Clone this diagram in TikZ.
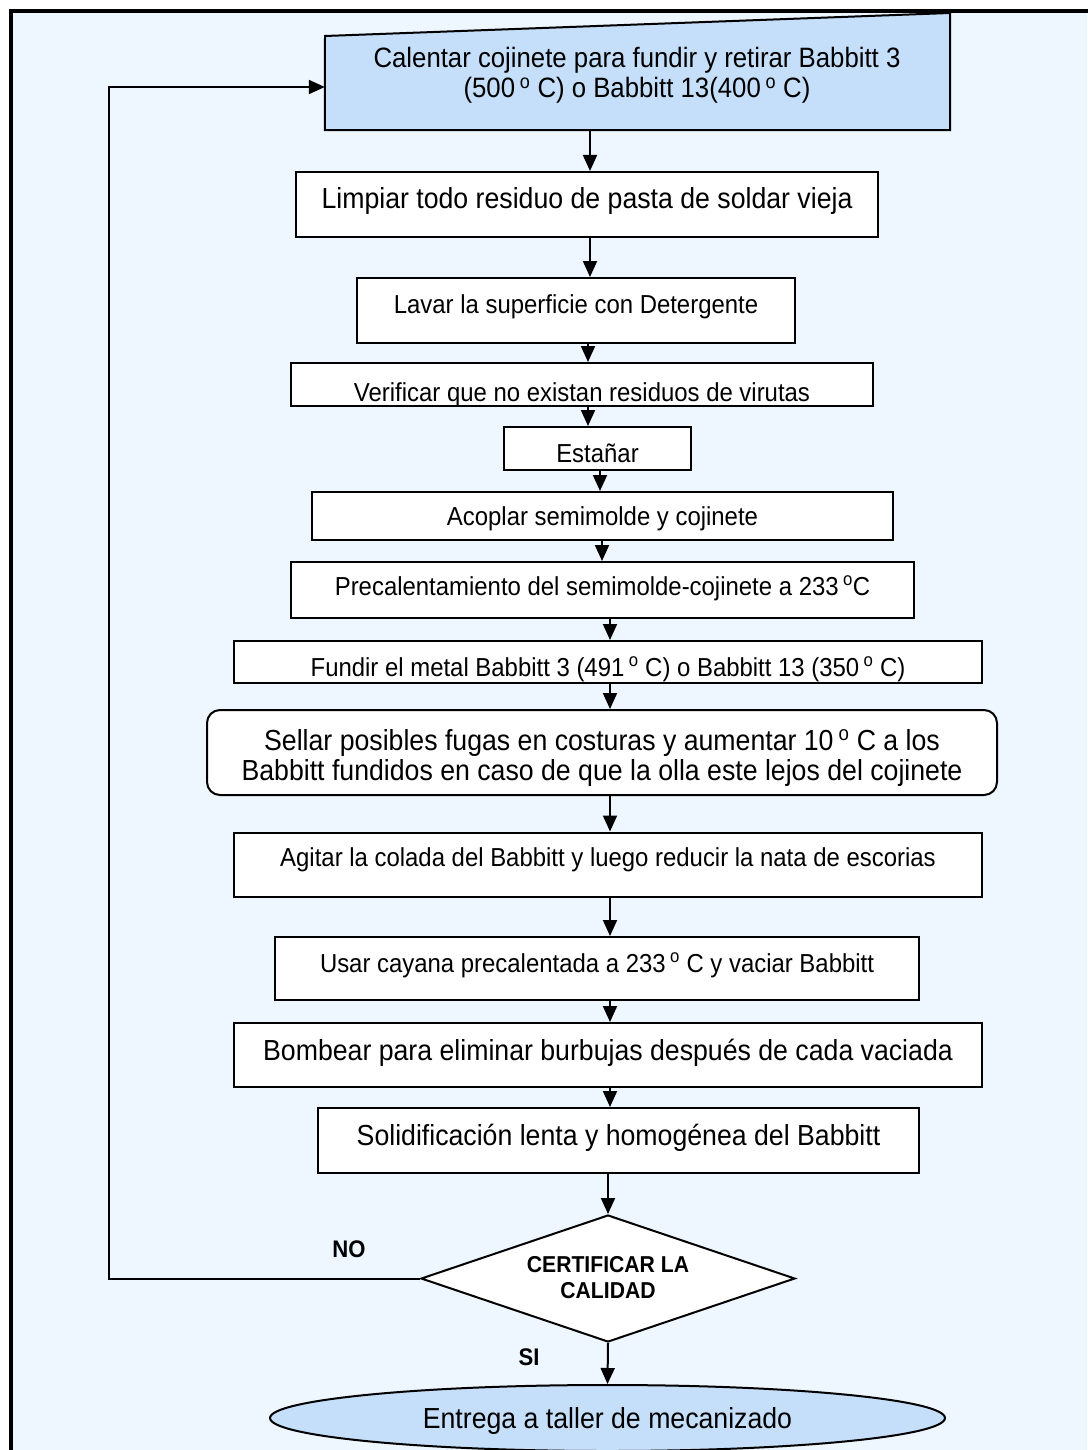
\documentclass[tikz,border=0pt]{standalone}
\usepackage{fontspec}
\setmainfont[FakeStretch=0.92]{Liberation Sans}
\usetikzlibrary{arrows.meta,shapes.geometric,calc}
\definecolor{bgblue}{RGB}{238,246,255}
\definecolor{boxblue}{RGB}{197,223,250}
\newcommand\fsz[1]{\fontsize{#1}{#1}\selectfont}
\newcommand\dg{\,\textsuperscript{o}}
\begin{document}
\begin{tikzpicture}[x=1pt,y=-1pt,
  box/.style={draw,line width=2pt,fill=white,inner sep=0pt},
  arr/.style={line width=2pt,-{Triangle[length=16pt,width=14pt]}},
  txt/.style={anchor=base,inner sep=0pt},
  lbl/.style={anchor=base,inner sep=0pt,font=\fsz{24}\bfseries}]
\useasboundingbox (0,0) rectangle (1087,1450);
\fill[white] (0,0) rectangle (1087,1450);
\fill[bgblue] (11,11) rectangle (1087,1450);
\draw[line width=4pt] (11,1452) -- (11,11) -- (1089,11);

% top box (manual input)
\node[inner sep=0pt,minimum width=625pt,minimum height=94pt] (b1) at (637.5,83) {};
\draw[line width=2pt,fill=boxblue] (b1.south west) -- (b1.south east) -- (950,13) -- (325,36) -- cycle;
\node[txt,font=\fsz{28}] (t1a) at (637,68) {Calentar cojinete para fundir y retirar Babbitt 3};
\node[txt,font=\fsz{28}] (t1b) at (637,98) {(500\dg{} C) o Babbitt 13(400\dg{} C)};

\node[box,minimum width=582pt,minimum height=65pt] (b2) at (587,204.5) {};
\node[txt,font=\fsz{29}] (t2) at (587,208) {Limpiar todo residuo de pasta de soldar vieja};

\node[box,minimum width=438pt,minimum height=65pt] (b3) at (576,310.5) {};
\node[txt,font=\fsz{26}] (t3) at (576,313) {Lavar la superficie con Detergente};

\node[box,minimum width=582pt,minimum height=43pt] (b4) at (582,384.5) {};
\begin{scope}
\clip (b4.south west) rectangle (b4.north east);
\node[txt,font=\fsz{26}] (t4) at (582,401) {Verificar que no existan residuos de virutas};
\end{scope}

\node[box,minimum width=187pt,minimum height=43pt] (b5) at (597.5,448.5) {};
\node[txt,font=\fsz{26}] (t5) at (597.5,462) {Estañar};

\node[box,minimum width=581pt,minimum height=48pt] (b6) at (602.5,516) {};
\node[txt,font=\fsz{26}] (t6) at (602.5,525) {Acoplar semimolde y cojinete};

\node[box,minimum width=623pt,minimum height=56pt] (b7) at (602.5,590) {};
\node[txt,font=\fsz{26}] (t7) at (602.5,595) {Precalentamiento del semimolde-cojinete a 233\dg{}C};

\node[box,minimum width=748pt,minimum height=42pt] (b8) at (608,662) {};
\begin{scope}
\clip (b8.south west) rectangle (b8.north east);
\node[txt,font=\fsz{26}] (t8) at (608,676) {Fundir el metal Babbitt 3 (491\dg{} C) o Babbitt 13 (350\dg{} C)};
\end{scope}

\node[box,rounded corners=13pt,minimum width=790pt,minimum height=85pt] (b9) at (602,752.5) {};
\node[txt,font=\fsz{29}] (t9a) at (602,750) {Sellar posibles fugas en costuras y aumentar 10\dg{} C a los};
\node[txt,font=\fsz{29}] (t9b) at (602,780) {Babbitt fundidos en caso de que la olla este lejos del cojinete};

\node[box,minimum width=748pt,minimum height=64pt] (b10) at (608,864.5) {};
\node[txt,font=\fsz{26}] (t10) at (608,866) {Agitar la colada del Babbitt y luego reducir la nata de escorias};

\node[box,minimum width=644pt,minimum height=63pt] (b11) at (597,968.5) {};
\node[txt,font=\fsz{26}] (t11) at (597,972) {Usar cayana precalentada a 233\dg{} C y vaciar Babbitt};

\node[box,minimum width=748pt,minimum height=64pt] (b12) at (608,1055) {};
\node[txt,font=\fsz{29}] (t12) at (608,1060) {Bombear para eliminar burbujas después de cada vaciada};

\node[box,minimum width=601pt,minimum height=65pt] (b13) at (618.5,1140.5) {};
\node[txt,font=\fsz{29}] (t13) at (618.5,1145) {Solidificación lenta y homogénea del Babbitt};

\node[diamond,draw,line width=2pt,fill=white,inner sep=0pt,minimum width=374pt,minimum height=127pt] (dia) at (608,1278.5) {};
\node[txt,font=\fsz{23}\bfseries] (td1) at (608,1272) {CERTIFICAR LA};
\node[txt,font=\fsz{23}\bfseries] (td2) at (608,1298) {CALIDAD};

\node[ellipse,draw,line width=2pt,fill=boxblue,inner sep=0pt,minimum width=675pt,minimum height=66pt] (end) at (607.5,1418) {};
\node[txt,font=\fsz{29}] (te) at (607.5,1428) {Entrega a taller de mecanizado};

\node[lbl] (no) at (349,1257) {NO};
\node[lbl] (si) at (529,1365) {SI};

% connectors
\draw[arr] (b1.south -| 590,0) -- (b2.north -| 590,0);
\draw[arr] (b2.south -| 590,0) -- (b3.north -| 590,0);
\draw[arr] (b3.south -| 588,0) -- (b4.north -| 588,0);
\draw[arr] (b4.south -| 588,0) -- (b5.north -| 588,0);
\draw[arr] (b5.south -| 600,0) -- (b6.north -| 600,0);
\draw[arr] (b6.south -| 602,0) -- (b7.north -| 602,0);
\draw[arr] (b7.south -| 610,0) -- (b8.north -| 610,0);
\draw[arr] (b8.south -| 610,0) -- (b9.north -| 610,0);
\draw[arr] (b9.south -| 610,0) -- (b10.north -| 610,0);
\draw[arr] (b10.south -| 610,0) -- (b11.north -| 610,0);
\draw[arr] (b11.south -| 610,0) -- (b12.north -| 610,0);
\draw[arr] (b12.south -| 610,0) -- (b13.north -| 610,0);
\draw[arr] (b13.south -| 608,0) -- (dia.north);
\draw[arr] (dia.south) -- (end.north);
\coordinate (fb) at (109,87);
\draw[arr] (dia.west) -| (fb) -- (fb -| b1.west);
\end{tikzpicture}
\end{document}
